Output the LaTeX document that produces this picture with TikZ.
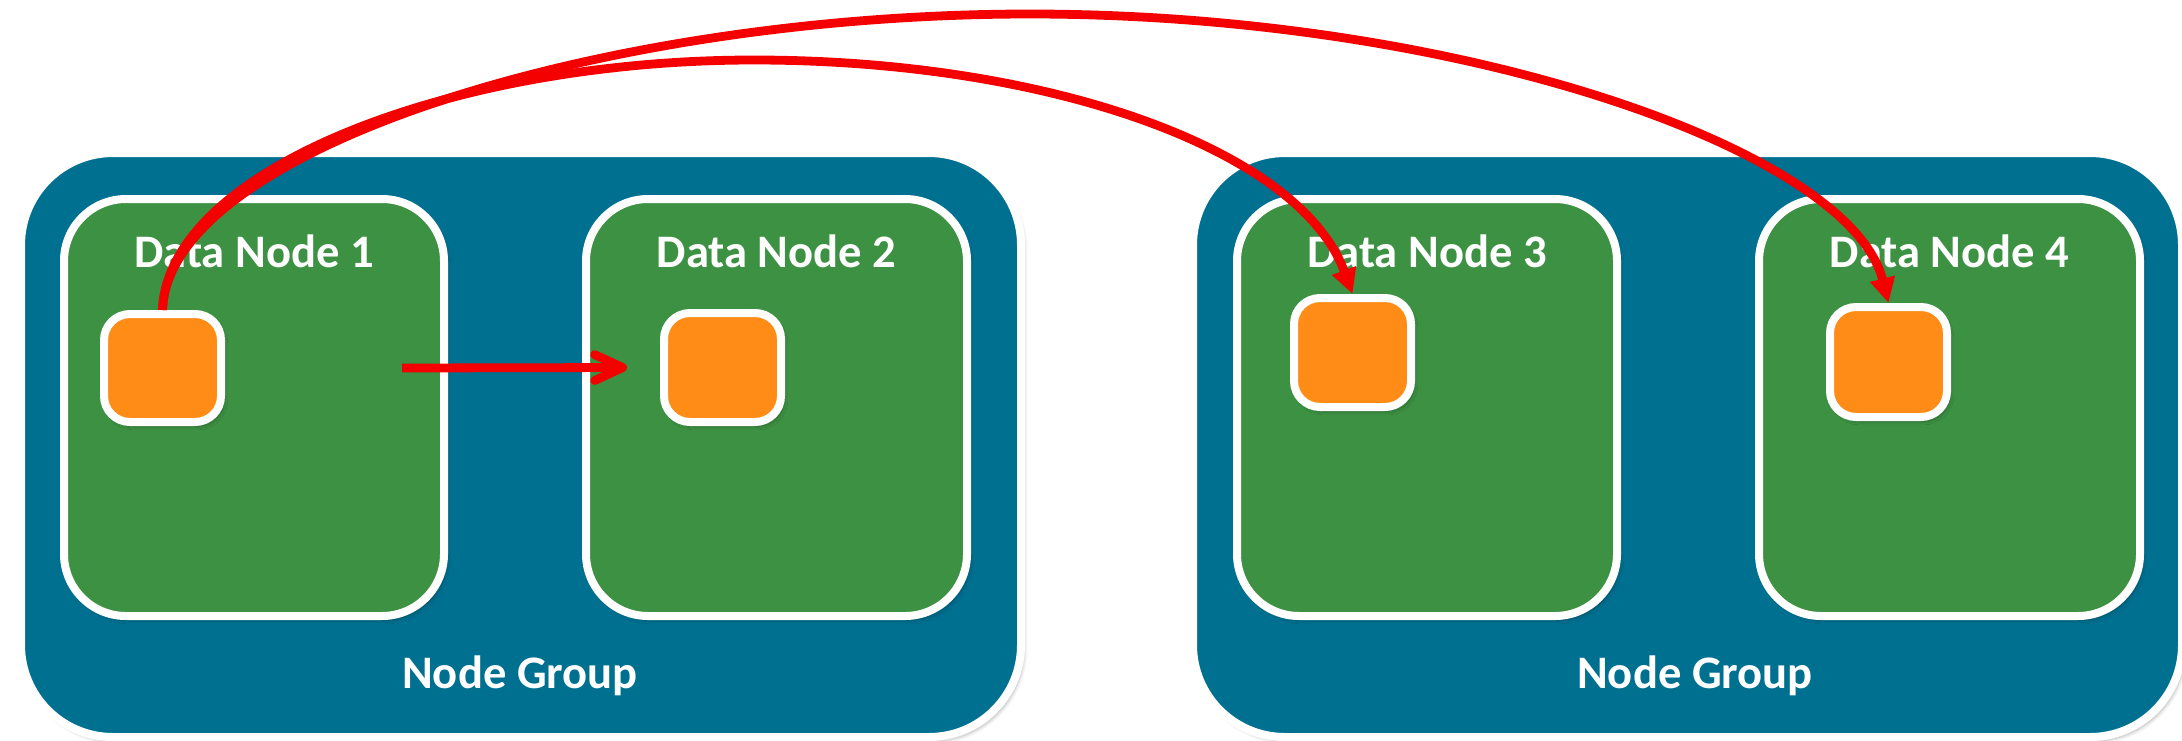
\documentclass[tikz,border=0pt]{standalone}
\usepackage{fontspec}
\setmainfont{Carlito}
\usetikzlibrary{arrows.meta,shadows.blur}
\definecolor{groupblue}{RGB}{0,112,145}
\definecolor{nodegreen}{RGB}{61,145,67}
\definecolor{blockorange}{RGB}{254,140,22}
\definecolor{linkred}{RGB}{245,0,0}
\tikzset{
  ring/.style={draw=white, line width=4pt, inner sep=0pt,
    blur shadow={shadow xshift=1.5pt, shadow yshift=-2pt,
      shadow blur steps=6, shadow opacity=30}},
  group/.style={ring, fill=groupblue, rounded corners=46pt},
  datanode/.style={ring, fill=nodegreen, rounded corners=31pt},
  block/.style={ring, fill=blockorange, rounded corners=13pt},
  caption/.style={text=white, font=\fontsize{23.3}{28}\selectfont\bfseries,
    inner sep=0pt, anchor=base},
  link/.style={draw=linkred, line width=4.4pt},
  curvelink/.style={link, -{Triangle[length=12.5pt,width=12pt]}},
  straightlink/.style={link, -{Straight Barb[length=14pt,width=13pt,round]}},
}
\begin{document}
\begin{tikzpicture}[x=0.5pt,y=-0.5pt]
\useasboundingbox (0,0) rectangle (2182,740);

% node groups
\node[group, minimum width=500pt, minimum height=292pt] (g1) at (521,445) {};
\node[group, minimum width=494.5pt, minimum height=292pt] (g2) at (1687.5,445) {};
\node[caption] (gl1) at (520,688) {Node Group};
\node[caption] (gl2) at (1695,688) {Node Group};

% data nodes
\node[datanode, minimum width=190pt, minimum height=208.5pt] (dn1) at (254,407.5) {};
\node[datanode, minimum width=190.5pt, minimum height=208.5pt] (dn2) at (776.5,407.5) {};
\node[datanode, minimum width=190pt, minimum height=208.5pt] (dn3) at (1427,407.5) {};
\node[datanode, minimum width=190.5pt, minimum height=208.5pt] (dn4) at (1949.5,407.5) {};
\node[caption] (l1) at (254,267) {Data Node 1};
\node[caption] (l2) at (776.5,267) {Data Node 2};
\node[caption] (l3) at (1427,267) {Data Node 3};
\node[caption] (l4) at (1949.5,267) {Data Node 4};

% blocks
\node[block, minimum width=58.5pt, minimum height=54pt] (b1) at (162.5,368) {};
\node[block, minimum width=58.5pt, minimum height=54.5pt] (b2) at (722.5,367.5) {};
\node[block, minimum width=58.5pt, minimum height=54.5pt] (b3) at (1352.5,352.5) {};
\node[block, minimum width=58.5pt, minimum height=55pt] (b4) at (1888.5,362) {};

% replication links
\coordinate (s1) at (402,368);
\coordinate (peakA) at (1030,14);
\coordinate (peakB) at (754,60);
\draw[straightlink] (s1) -- ([xshift=-16.5pt]b2.west);
\draw[curvelink] (b1.north) .. controls (168,170) and (450,60) .. (peakB)
  .. controls (1050,60) and (1300,150) .. (b3.north);
\draw[curvelink] (b1.north) .. controls (168,150) and (600,14) .. (peakA)
  .. controls (1460,14) and (1850,150) .. (b4.north);
\end{tikzpicture}
\end{document}
